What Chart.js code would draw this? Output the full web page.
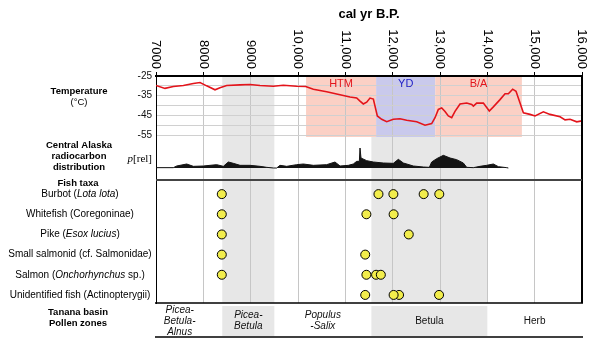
<!DOCTYPE html>
<html>
<head>
<meta charset="utf-8">
<script src="https://cdn.jsdelivr.net/npm/chart.js@4.4.1/dist/chart.umd.min.js"></script>
<style>
  html, body { margin: 0; padding: 0; background: #fff; }
  #wrap { width: 600px; height: 348px; }
</style>
</head>
<body>
<div id="wrap"><canvas id="c" width="600" height="348"></canvas></div>
<script>
// ---- Age axis (cal yr B.P.) ----
const ageMin = 7000;
const ageMax = 16000;
const ageTickLabels = ['7000', '8000', '9000', '10,000', '11,000', '12,000', '13,000', '14,000', '15,000', '16,000'];

// ---- Temperature reconstruction (°C) ----
const tempAge = [7000, 7190, 7366, 7578, 7789, 7930, 8070, 8247, 8352, 8493, 8775, 8986, 9197, 9479, 9690, 9972,
  10163, 10324, 10606, 10887, 11099, 11240, 11310, 11380, 11451, 11521, 11592, 11627, 11676, 11768, 11874, 12014,
  12155, 12296, 12508, 12684, 12824, 12895, 12965, 13036, 13106, 13176, 13247, 13317, 13423, 13564, 13670, 13705,
  13775, 13916, 14042, 14127, 14268, 14374, 14444, 14535, 14606, 14691, 14761, 14902, 15008, 15184, 15325, 15537,
  15642, 15748, 15889, 16000];
const tempC = [-29.8, -31.3, -30.3, -29.8, -28.8, -28.3, -30, -32, -31, -29.8, -29.5, -29.3, -29.8, -30.2, -29.7, -30.2,
  -30.3, -31.7, -33, -34.5, -35.7, -36.2, -37.8, -39.2, -38.3, -36.2, -36.7, -40.3, -45.3, -47, -48.2, -47,
  -46.7, -47.5, -48.2, -50, -49.2, -46.2, -42, -41.2, -43, -45.3, -46.2, -43, -39.2, -38.7, -39.5, -40.3,
  -38.8, -38.7, -42.8, -40.7, -37, -34, -34, -31.7, -32.8, -38.7, -43.7, -44.5, -45.3, -43.2, -44.5, -45.7,
  -47.3, -47, -48.3, -47.8];
const tempGrid = [-55, -50, -45, -40, -35, -30, -25];
const tempLabelled = [-55, -45, -35, -25];

// ---- Climate intervals ----
const eventNames = ['HTM', 'YD', 'B/A'];
const eventStart = [10170, 11650, 12900];
const eventEnd = [11650, 12900, 14730];

// ---- Central Alaska radiocarbon distribution (relative probability) ----
const c14Age = [7000, 7366, 7437, 7648, 7789, 8000, 8141, 8282, 8423, 8528, 8634, 8775, 8986, 9197, 9338, 9479,
  9550, 9620, 9761, 9972, 10113, 10324, 10606, 10782, 10888, 11064, 11169, 11240, 11296, 11310, 11331, 11451,
  11592, 11803, 12014, 12120, 12226, 12437, 12648, 12775, 12824, 12930, 13071, 13212, 13352, 13493, 13564, 13705,
  13845, 13986, 14127, 14233, 14409, 14444];
const c14Rel = [1, 1, 6, 12, 5, 6, 8, 10, 5, 18, 14, 8, 8, 5, 2, 0,
  0, 8, 5, 10, 12, 8, 10, 18, 6, 8, 12, 20, 20, 60, 30, 22,
  18, 15, 14, 26, 15, 6, 3, 2, 18, 28, 38, 30, 25, 15, 2, 1,
  5, 8, 12, 4, 1, 0];

// ---- Fish remains (ages of dated specimens) ----
const fishLabels = [
  [['Burbot (', false], ['Lota lota', true], [')', false]],
  [['Whitefish (Coregoninae)', false]],
  [['Pike (', false], ['Esox lucius', true], [')', false]],
  [['Small salmonid (cf. Salmonidae)', false]],
  [['Salmon (', false], ['Onchorhynchus', true], [' sp.)', false]],
  [['Unidentified fish (Actinopterygii)', false]]
];
const burbotAges = [8390, 11700, 12015, 12655, 12985];
const whitefishAges = [8390, 11445, 12020];
const pikeAges = [8390, 12340];
const smallSalmonidAges = [8390, 11420];
const salmonAges = [8390, 11445, 11650, 11750];
const unidentifiedAges = [11420, 12135, 12020, 12980];
const fishAges = [burbotAges, whitefishAges, pikeAges, smallSalmonidAges, salmonAges, unidentifiedAges];

// ---- Tanana basin pollen zones ----
const zoneNames = [['Picea-', 'Betula-', 'Alnus'], ['Picea-', 'Betula'], ['Populus', '-Salix'], ['Betula'], ['Herb']];
const zoneStart = [6600, 8400, 9500, 11550, 14000];
const zoneEnd = [8400, 9500, 11550, 14000, 16000];
const zoneItalic = [true, true, true, false, false];
const zoneShaded = [false, true, false, true, false];

// ---- Styling ----
const SANS = '"Liberation Sans", Arial, Helvetica, sans-serif';
const SERIF = '"Liberation Serif", "Times New Roman", serif';
const GREY_BAND = '#e7e7e7';
const eventFill = ['#fbd0c5', '#c9c9ec', '#fbd0c5'];
const eventText = ['#e3141b', '#1c1cc4', '#e3141b'];

function centeredText(ctx, lines, cx, y0, lh, font) {
  ctx.font = font;
  ctx.textAlign = 'center';
  ctx.textBaseline = 'middle';
  lines.forEach((t, i) => ctx.fillText(t, cx, y0 + i * lh));
}

const panelPlugin = {
  id: 'panels',
  beforeDraw(chart) {
    const { ctx, chartArea: ca, scales } = chart;
    const { x, yT, yR } = scales;
    ctx.save();
    // pollen-zone shading carried up through the panels and in the zone row
    zoneStart.forEach((s, i) => {
      if (!zoneShaded[i]) return;
      const x0 = x.getPixelForValue(Math.max(s, ageMin));
      const x1 = x.getPixelForValue(Math.min(zoneEnd[i], ageMax));
      const top = i === 1 ? ca.top : yR.top - 1;
      ctx.fillStyle = GREY_BAND;
      ctx.fillRect(x0, top, x1 - x0, ca.bottom - top);
      ctx.fillRect(x0, ca.bottom + 3, x1 - x0, 30);
    });
    // climate intervals behind the temperature curve
    eventNames.forEach((n, i) => {
      const x0 = x.getPixelForValue(eventStart[i]);
      const x1 = x.getPixelForValue(eventEnd[i]);
      ctx.fillStyle = eventFill[i];
      ctx.fillRect(x0, yT.top + 1, x1 - x0, yT.bottom - yT.top - 2);
    });
    ctx.restore();
  },
  afterDraw(chart) {
    const { ctx, chartArea: ca, scales } = chart;
    const { x, yT, yF } = scales;
    ctx.save();

    // interval names
    eventNames.forEach((n, i) => {
      const cx = (x.getPixelForValue(eventStart[i]) + x.getPixelForValue(eventEnd[i])) / 2;
      ctx.fillStyle = eventText[i];
      centeredText(ctx, [n], cx, yT.top + 8, 0, '11px ' + SANS);
    });

    // frame
    ctx.strokeStyle = '#000';
    ctx.lineWidth = 2;
    ctx.beginPath();
    ctx.moveTo(ca.right, ca.top - 1);
    ctx.lineTo(ca.right, ca.bottom);
    ctx.stroke();
    ctx.strokeStyle = '#444';
    ctx.beginPath();
    ctx.moveTo(ca.left, yF.top + 1);
    ctx.lineTo(ca.right, yF.top + 1);
    ctx.stroke();
    ctx.strokeStyle = '#000';
    ctx.lineWidth = 1.5;
    ctx.beginPath();
    ctx.moveTo(ca.left - 1, ca.bottom);
    ctx.lineTo(ca.right + 1, ca.bottom);
    ctx.stroke();
    ctx.beginPath();
    ctx.moveTo(ca.left - 1, ca.bottom + 34);
    ctx.lineTo(ca.right + 1, ca.bottom + 34);
    ctx.stroke();

    // age tick labels, read top to bottom
    ctx.fillStyle = '#000';
    ctx.font = '13px ' + SANS;
    ctx.textAlign = 'right';
    ctx.textBaseline = 'middle';
    x.ticks.forEach((t, i) => {
      ctx.save();
      ctx.translate(x.getPixelForValue(t.value), ca.top - 7);
      ctx.rotate(Math.PI / 2);
      ctx.fillText(ageTickLabels[i], 0, 0);
      ctx.restore();
    });
    centeredText(ctx, ['cal yr B.P.'], (ca.left + ca.right) / 2, 14, 0, 'bold 13px ' + SANS);

    // panel names
    const lx = 79;
    centeredText(ctx, ['Temperature'], lx, 91, 0, 'bold 9.5px ' + SANS);
    centeredText(ctx, ['(°C)'], lx, 102, 0, '9.5px ' + SANS);
    centeredText(ctx, ['Central Alaska', 'radiocarbon', 'distribution'], lx, 145, 11, 'bold 9.5px ' + SANS);
    centeredText(ctx, ['Fish taxa'], 78, 183, 0, 'bold 9.5px ' + SANS);
    centeredText(ctx, ['Tanana basin', 'Pollen zones'], 78, 312, 11, 'bold 9.5px ' + SANS);

    // relative-probability axis name
    ctx.textBaseline = 'middle';
    ctx.textAlign = 'left';
    ctx.font = '11px ' + SERIF;
    const relW = ctx.measureText('[rel]').width;
    ctx.font = 'italic 11px ' + SERIF;
    const pW = ctx.measureText('p').width;
    const px = 152 - relW - pW;
    ctx.fillText('p', px, 159);
    ctx.font = '11px ' + SERIF;
    ctx.fillText('[rel]', px + pW, 159);

    // fish taxa names, with italic genus/species
    fishLabels.forEach((parts, i) => {
      const y = yF.getPixelForValue(i);
      let w = 0;
      parts.forEach(([t, it]) => { ctx.font = (it ? 'italic ' : '') + '10px ' + SANS; w += ctx.measureText(t).width; });
      let cx = 80 - w / 2;
      parts.forEach(([t, it]) => {
        ctx.font = (it ? 'italic ' : '') + '10px ' + SANS;
        ctx.fillText(t, cx, y);
        cx += ctx.measureText(t).width;
      });
    });

    // pollen zone names
    ctx.fillStyle = '#111';
    zoneNames.forEach((lines, i) => {
      const cx = (x.getPixelForValue(zoneStart[i]) + x.getPixelForValue(zoneEnd[i])) / 2;
      const n = lines.length;
      const y0 = 321 - (n - 1) * 5.5;
      centeredText(ctx, lines, cx, y0, 11, (zoneItalic[i] ? 'italic ' : '') + '10px ' + SANS);
    });
    ctx.restore();
  }
};

const fishDatasets = fishAges.map((ages, i) => ({
  type: 'scatter',
  yAxisID: 'yF',
  data: ages.map(a => ({ x: a, y: i })),
  pointRadius: 4.5,
  pointBackgroundColor: '#f2ed4c',
  pointBorderColor: '#000',
  pointBorderWidth: 1,
  order: 0
}));

new Chart(document.getElementById('c'), {
  type: 'scatter',
  data: {
    datasets: [
      {
        type: 'line',
        yAxisID: 'yT',
        data: tempAge.map((a, i) => ({ x: a, y: tempC[i] })),
        borderColor: '#e3141b',
        borderWidth: 1.6,
        pointRadius: 0,
        fill: false,
        tension: 0,
        order: 1
      },
      {
        type: 'line',
        yAxisID: 'yR',
        data: c14Age.map((a, i) => ({ x: a, y: c14Rel[i] })),
        borderColor: '#141414',
        backgroundColor: '#141414',
        borderWidth: 1,
        pointRadius: 0,
        fill: 'origin',
        tension: 0,
        order: 2
      },
      ...fishDatasets
    ]
  },
  options: {
    responsive: false,
    animation: false,
    events: [],
    layout: { padding: { left: 0, right: 18, top: 0, bottom: 45 } },
    plugins: { legend: { display: false }, tooltip: { enabled: false } },
    scales: {
      x: {
        type: 'linear',
        position: 'top',
        min: ageMin,
        max: ageMax,
        afterBuildTicks: s => { s.ticks = ageTickLabels.map((_, i) => ({ value: ageMin + i * 1000 })); },
        afterFit: s => { s.height = 76; },
        ticks: { display: false },
        grid: { color: '#c6c6c6', lineWidth: 1, tickColor: '#000', tickLength: 4 },
        border: { color: '#000', width: 2 }
      },
      yF: {
        type: 'linear',
        position: 'left',
        stack: 'panels',
        stackWeight: 124,
        reverse: true,
        min: -0.75,
        max: 5.4,
        afterFit: s => { s.width = 156; },
        ticks: { display: false },
        grid: { display: false },
        border: { color: '#000', width: 1 }
      },
      yR: {
        type: 'linear',
        position: 'left',
        stack: 'panels',
        stackWeight: 41,
        min: -33,
        max: 90,
        afterFit: s => { s.width = 156; },
        ticks: { display: false },
        grid: { display: false },
        border: { color: '#000', width: 1 }
      },
      yT: {
        type: 'linear',
        position: 'left',
        stack: 'panels',
        stackWeight: 62,
        min: -56.5,
        max: -25,
        afterBuildTicks: s => { s.ticks = tempGrid.map(v => ({ value: v })); },
        afterFit: s => { s.width = 156; },
        ticks: {
          autoSkip: false,
          color: '#111',
          font: { family: SANS, size: 10 },
          padding: 4,
          callback: v => (tempLabelled.includes(v) ? String(v) : '')
        },
        grid: { color: '#d0d0d0', lineWidth: 1, drawTicks: false },
        border: { color: '#000', width: 1 }
      }
    }
  },
  plugins: [panelPlugin]
});
</script>
</body>
</html>
